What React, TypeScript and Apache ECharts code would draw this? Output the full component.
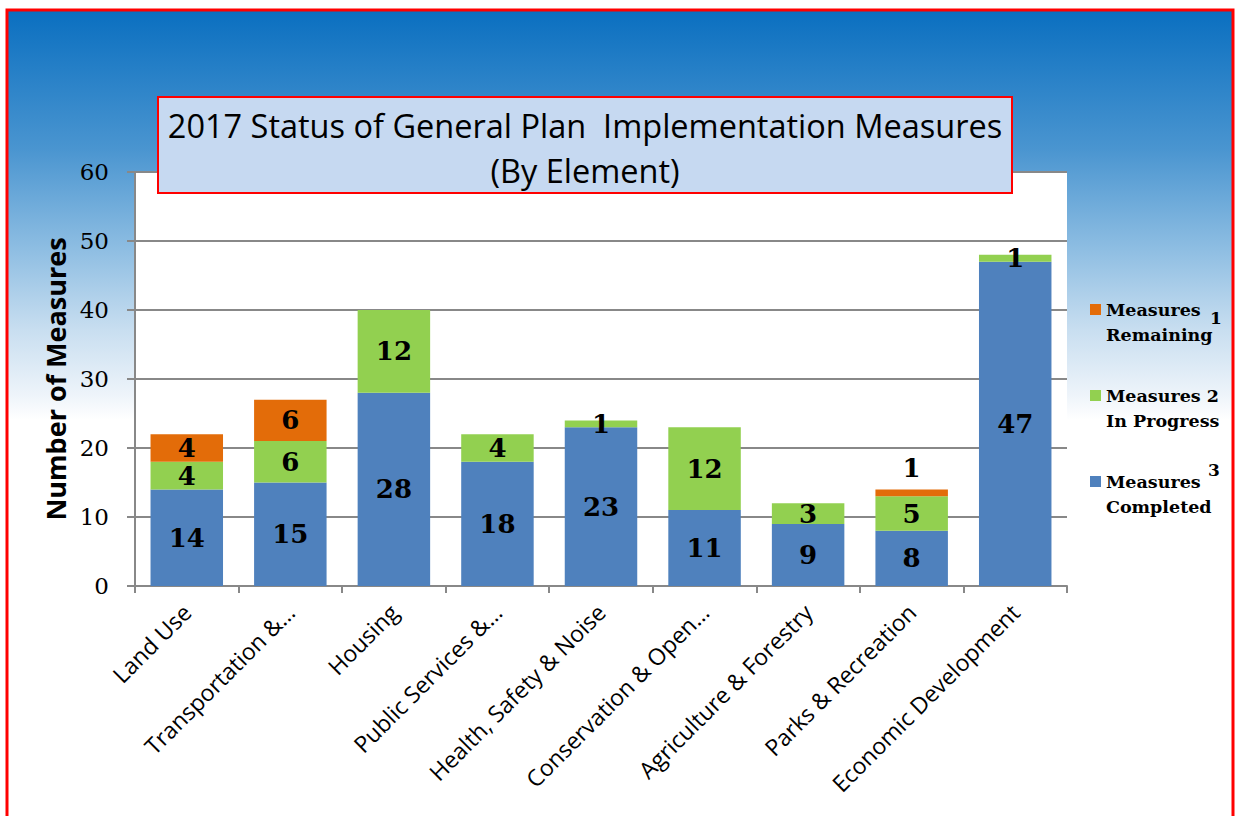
import React, { useEffect, useRef } from "react";
import * as echarts from "echarts";

const categories = [
  "Land Use",
  "Transportation &…",
  "Housing",
  "Public Services &…",
  "Health, Safety & Noise",
  "Conservation & Open…",
  "Agriculture & Forestry",
  "Parks & Recreation",
  "Economic Development",
];
const completed = [14, 15, 28, 18, 23, 11, 9, 8, 47];
const inProgress = [4, 6, 12, 4, 1, 12, 3, 5, 1];
const remaining = [4, 6, 0, 0, 0, 0, 0, 1, 0];
const yTicks = { min: 0, max: 60, interval: 10 };
const titleLines = ["2017 Status of General Plan  Implementation Measures", "(By Element)"];
const seriesNames = ["Measures Remaining", "Measures In Progress", "Measures Completed"];

export default function App() {
  const ref = useRef<HTMLDivElement>(null);
  useEffect(() => {
    document.body.style.margin = "0";
    const chart = echarts.init(ref.current!, null, { renderer: "svg" });
    const labelFont = {
      fontFamily: "DejaVu Serif",
      fontWeight: "bold" as const,
      fontSize: 26,
      lineHeight: 26,
      color: "#000",
    };
    const fmt = (p: any) => (p.value ? String(p.value) : "");
    const remainingData = remaining.map((v, i) =>
      i === 7 ? { value: v, label: { position: "top", distance: 8 } } : v
    );
    const supStyle = {
      fontFamily: "DejaVu Serif",
      fontWeight: "bold",
      fontSize: 17,
      fill: "#000",
      align: "center",
      verticalAlign: "middle",
    };
    chart.setOption({
      animation: false,
      backgroundColor: "#fff",
      graphic: [
        {
          type: "rect",
          z: -10,
          silent: true,
          shape: { x: 7, y: 10, width: 1226, height: 820 },
          style: {
            fill: new echarts.graphic.LinearGradient(0, 0, 0, 1, [
              { offset: 0, color: "#0a6fc0" },
              { offset: 0.17, color: "#4a95d0" },
              { offset: 0.29, color: "#8dbde2" },
              { offset: 0.39, color: "#c8def0" },
              { offset: 0.47, color: "#eef4fa" },
              { offset: 0.5, color: "#ffffff" },
              { offset: 1, color: "#ffffff" },
            ]),
            stroke: "#ff0000",
            lineWidth: 3,
          },
        },
        {
          type: "rect",
          z: 10,
          shape: { x: 158, y: 97, width: 854, height: 96 },
          style: { fill: "#c6d9f1", stroke: "#ff0000", lineWidth: 2 },
        },
        {
          type: "text",
          z: 11,
          x: 585,
          y: 125,
          style: {
            text: titleLines[0],
            fontFamily: "Open Sans",
            fontSize: 32.5,
            fill: "#000",
            align: "center",
            verticalAlign: "middle",
          },
        },
        {
          type: "text",
          z: 11,
          x: 585,
          y: 170,
          style: {
            text: titleLines[1],
            fontFamily: "Open Sans",
            fontSize: 32.5,
            fill: "#000",
            align: "center",
            verticalAlign: "middle",
          },
        },
        { type: "text", z: 11, x: 1216, y: 318, style: { text: "1", ...supStyle } },
        { type: "text", z: 11, x: 1214, y: 470, style: { text: "3", ...supStyle } },
      ],
      legend: {
        orient: "vertical",
        left: 1085,
        top: 267,
        icon: "rect",
        itemWidth: 11,
        itemHeight: 11,
        itemGap: 11,
        data: seriesNames,
        formatter: (name: string) =>
          name === "Measures Remaining"
            ? "\u00a0\nMeasures\nRemaining"
            : name === "Measures In Progress"
            ? "\u00a0\nMeasures 2\nIn Progress"
            : "\u00a0\nMeasures\nCompleted",
        textStyle: {
          fontFamily: "DejaVu Serif",
          fontWeight: "bold",
          fontSize: 17.5,
          lineHeight: 25,
          color: "#000",
        },
        itemStyle: { borderWidth: 0 },
      },
      grid: {
        left: 135,
        right: 169,
        top: 172,
        bottom: 230,
        show: true,
        backgroundColor: "#ffffff",
        borderWidth: 0,
      },
      xAxis: {
        type: "category",
        data: categories,
        axisLine: { lineStyle: { color: "#888", width: 2 } },
        axisTick: { show: true, length: 7, lineStyle: { color: "#888", width: 2 } },
        axisLabel: {
          rotate: 45,
          interval: 0,
          margin: 22,
          fontFamily: "Open Sans",
          fontSize: 23,
          color: "#000",
        },
      },
      yAxis: {
        type: "value",
        min: yTicks.min,
        max: yTicks.max,
        interval: yTicks.interval,
        name: "Number of Measures",
        nameLocation: "middle",
        nameGap: 66,
        nameTextStyle: {
          fontFamily: "Open Sans",
          fontWeight: "bold",
          fontSize: 27,
          color: "#000",
        },
        axisLine: { show: true, lineStyle: { color: "#888", width: 2 } },
        axisTick: { show: true, length: 8, lineStyle: { color: "#888", width: 2 } },
        splitLine: { lineStyle: { color: "#888", width: 2 } },
        axisLabel: {
          margin: 26,
          fontFamily: "DejaVu Serif",
          fontSize: 23,
          color: "#000",
        },
      },
      series: [
        {
          name: seriesNames[2],
          type: "bar",
          stack: "total",
          barWidth: "70%",
          data: completed,
          itemStyle: { color: "#4f81bd" },
          label: { show: true, position: "inside", formatter: fmt, ...labelFont },
        },
        {
          name: seriesNames[1],
          type: "bar",
          stack: "total",
          data: inProgress,
          itemStyle: { color: "#92d050" },
          label: { show: true, position: "inside", formatter: fmt, ...labelFont },
        },
        {
          name: seriesNames[0],
          type: "bar",
          stack: "total",
          data: remainingData,
          itemStyle: { color: "#e36c09" },
          label: { show: true, position: "inside", formatter: fmt, ...labelFont },
        },
      ],
    });
    return () => chart.dispose();
  }, []);
  return <div ref={ref} style={{ width: 1236, height: 816 }} />;
}
